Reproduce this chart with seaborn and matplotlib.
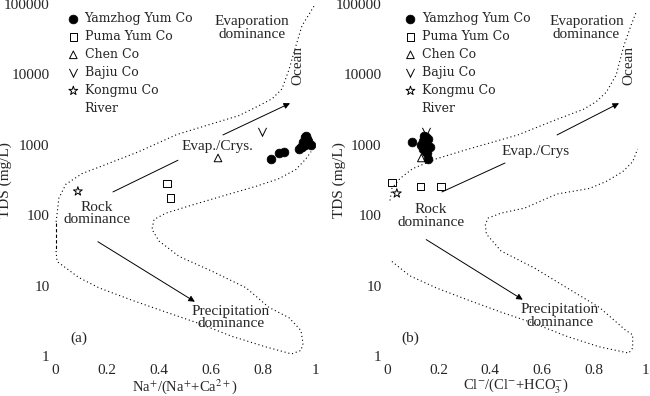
import numpy as np
import pandas as pd
import matplotlib
matplotlib.use("Agg")
import matplotlib.pyplot as plt
import seaborn as sns
from matplotlib.lines import Line2D

# --- datos de las muestras (TDS en mg/L) ---
yam_tds = [630, 760, 780, 870, 920, 980, 1050, 1100, 1150, 1200, 1280, 1350, 1000, 940]
yam_na = [0.83, 0.86, 0.88, 0.94, 0.95, 0.96, 0.97, 0.955, 0.975, 0.97, 0.96, 0.965, 0.985, 0.945]
yam_cl = [0.16, 0.155, 0.15, 0.14, 0.16, 0.13, 0.15, 0.095, 0.14, 0.16, 0.15, 0.145, 0.135, 0.165]

puma_na = [0.43, 0.445]
puma_na_tds = [282, 175]
puma_cl = [0.02, 0.13, 0.21]
puma_cl_tds = [290, 255, 255]

chen_tds = [650]
chen_na = [0.627]
chen_cl = [0.133]

bajiu_tds = [1520]
bajiu_na = [0.796]
bajiu_cl = [0.152]

kong_na = [0.088]
kong_na_tds = [218]
kong_cl = [0.038]
kong_cl_tds = [204]

# --- límites del diagrama de Gibbs ---
na_outer_x = [0.996, 0.95, 0.927, 0.90, 0.873, 0.835, 0.785, 0.708, 0.469, 0.323,
              0.196, 0.104, 0.042, 0.015, 0.004]
na_outer_y = [93000, 49000, 25700, 11700, 6200, 4500, 3600, 2600, 1400, 800,
              525, 390, 275, 175, 78]
na_vert_x = [0.004, 0.004]
na_vert_y = [78, 31]
na_lower_x = [0.004, 0.008, 0.092, 0.169, 0.296, 0.427, 0.554, 0.681, 0.81, 0.91, 0.946, 0.954,
              0.946, 0.90, 0.823, 0.735, 0.604, 0.477, 0.45, 0.40, 0.373, 0.381, 0.427, 0.515,
              0.642, 0.773, 0.862, 0.927, 0.965, 0.985]
na_lower_y = [31, 22, 13, 9.3, 6.2, 4.2, 2.9, 1.9, 1.35, 1.07, 1.2, 1.5,
              2.3, 3.5, 4.9, 9.3, 16, 26, 31, 43, 63, 87, 107, 135,
              186, 257, 331, 447, 630, 800]

cl_outer_x = [0.964, 0.945, 0.918, 0.888, 0.85, 0.811, 0.762, 0.659, 0.507, 0.316,
              0.19, 0.099, 0.05, 0.019, 0.011]
cl_outer_y = [74000, 49000, 25700, 9800, 5600, 4100, 3200, 2300, 1380, 870,
              630, 457, 331, 240, 158]
cl_lower_x = [0.019, 0.088, 0.19, 0.316, 0.442, 0.571, 0.697, 0.823, 0.937, 0.952,
              0.952, 0.926, 0.823, 0.697, 0.571, 0.442, 0.385, 0.381, 0.392, 0.442,
              0.533, 0.659, 0.785, 0.85, 0.914, 0.952, 0.971]
cl_lower_y = [22, 13.8, 9.3, 6.2, 4.2, 2.9, 1.9, 1.35, 1.1, 1.3,
              2.0, 2.3, 4.9, 9.3, 17.8, 31, 54, 74, 91, 107,
              126, 200, 240, 302, 417, 575, 870]

y_ticks = [1, 10, 100, 1000, 10000, 100000]
y_labels = ["1", "10", "100", "1000", "10000", "100000"]
x_ticks = [0, 0.2, 0.4, 0.6, 0.8, 1]
x_labels = ["0", "0.2", "0.4", "0.6", "0.8", "1"]

sns.set_style("white")
plt.rcParams['font.family'] = ['Liberation Serif', 'DejaVu Serif']
plt.rcParams['mathtext.fontset'] = 'stix'
FS = 11
DOT = (0, (1, 2.5))


def dibujar_panel(ax, curvas, muestras, textos, flechas, xlabel, letra, ylab_x, leg_x):
    for cx, cy, estilo in curvas:
        ax.plot(cx, cy, color='k', lw=0.8, linestyle=estilo)
    for x, y, mk, kw, etiqueta in muestras:
        df = pd.DataFrame({'x': x, 'y': y})
        sns.scatterplot(data=df, x='x', y='y', ax=ax, marker=mk, label=etiqueta,
                        zorder=3, **kw)
    for (x0, y0), (x1, y1), cabeza in flechas:
        ax.annotate('', xy=(x1, y1), xytext=(x0, y0),
                    arrowprops=dict(arrowstyle='-|>' if cabeza else '-', lw=0.7,
                                    color='k', mutation_scale=9, shrinkA=0, shrinkB=0))
    for x, y, s, rot in textos:
        ax.text(x, y, s, ha='center', va='center', fontsize=FS, rotation=rot,
                linespacing=0.95)
    ax.text(0.09, 1.8, letra, ha='center', va='center', fontsize=FS)

    ax.set_yscale('log')
    ax.set_ylim(1, 100000)
    ax.set_xlim(0, 1)
    ax.set_yticks(y_ticks)
    ax.set_yticklabels(y_labels, fontsize=FS)
    ax.set_xticks(x_ticks)
    ax.set_xticklabels(x_labels, fontsize=FS)
    ax.minorticks_off()
    ax.tick_params(axis='x', direction='in', length=2, width=0.7, pad=6)
    ax.tick_params(axis='y', length=0, pad=4)
    for sp in ax.spines.values():
        sp.set_visible(False)
    ax.set_xlabel(xlabel, fontsize=10.5)
    ax.xaxis.set_label_coords(0.5, -0.06)
    ax.set_ylabel('TDS (mg/L)', fontsize=FS)
    ax.yaxis.set_label_coords(ylab_x, 0.5)

    handles, labels = ax.get_legend_handles_labels()
    handles.append(Line2D([], [], linestyle='none', marker=''))
    labels.append('River')
    ax.legend(handles, labels, loc='upper left', bbox_to_anchor=(leg_x, 1.0),
              frameon=False, prop=dict(family='DejaVu Serif', size=9),
              handlelength=0.8, handletextpad=0.5, labelspacing=0.4,
              borderaxespad=0.25)


fig = plt.figure(figsize=(6.5, 3.96), dpi=100)
ax1 = fig.add_axes([0.0846, 0.101, 0.40, 0.889])
ax2 = fig.add_axes([0.5954, 0.101, 0.397, 0.889])

rellena = dict(color='k', s=40, edgecolor='k', linewidth=0.5)
abierto = dict(facecolor='none', edgecolor='k', s=30, linewidth=0.7)
vee = dict(color='k', s=45, linewidth=0)

dibujar_panel(
    ax1,
    [(na_outer_x, na_outer_y, DOT), (na_vert_x, na_vert_y, (0, (3, 2))),
     (na_lower_x, na_lower_y, DOT)],
    [(yam_na, yam_tds, 'o', rellena, 'Yamzhog Yum Co'),
     (puma_na, puma_na_tds, 's', abierto, 'Puma Yum Co'),
     (chen_na, chen_tds, '^', abierto, 'Chen Co'),
     (bajiu_na, bajiu_tds, r'$\vee$', vee, 'Bajiu Co'),
     (kong_na, kong_na_tds, '*', dict(abierto, s=45), 'Kongmu Co')],
    [(0.758, 45700, 'Evaporation\ndominance', 0), (0.935, 13500, 'Ocean', 90),
     (0.623, 930, 'Evap./Crys.', 0), (0.162, 105, 'Rock\ndominance', 0),
     (0.677, 3.5, 'Precipitation\ndominance', 0)],
    [((0.223, 214), (0.473, 603), False), ((0.646, 1380), (0.904, 3890), True),
     ((0.165, 42), (0.538, 5.9), True)],
    r'Na$^{+}$/(Na$^{+}$+Ca$^{2+}$)', '(a)', -0.165, 0.02)

dibujar_panel(
    ax2,
    [(cl_outer_x, cl_outer_y, DOT), (cl_lower_x, cl_lower_y, DOT)],
    [(yam_cl, yam_tds, 'o', rellena, 'Yamzhog Yum Co'),
     (puma_cl, puma_cl_tds, 's', abierto, 'Puma Yum Co'),
     (chen_cl, chen_tds, '^', abierto, 'Chen Co'),
     (bajiu_cl, bajiu_tds, r'$\vee$', vee, 'Bajiu Co'),
     (kong_cl, kong_cl_tds, '*', dict(abierto, s=45), 'Kongmu Co')],
    [(0.773, 45700, 'Evaporation\ndominance', 0), (0.937, 13500, 'Ocean', 90),
     (0.575, 800, 'Evap./Crys', 0), (0.171, 98, 'Rock\ndominance', 0),
     (0.67, 3.7, 'Precipitation\ndominance', 0)],
    [((0.213, 214), (0.457, 550), False), ((0.659, 1380), (0.899, 3890), True),
     ((0.152, 45), (0.526, 6.3), True)],
    r'Cl$^{-}$/(Cl$^{-}$+HCO$_{3}^{-}$)', '(b)', -0.16, 0.04)

fig.savefig('out.png', dpi=100)
